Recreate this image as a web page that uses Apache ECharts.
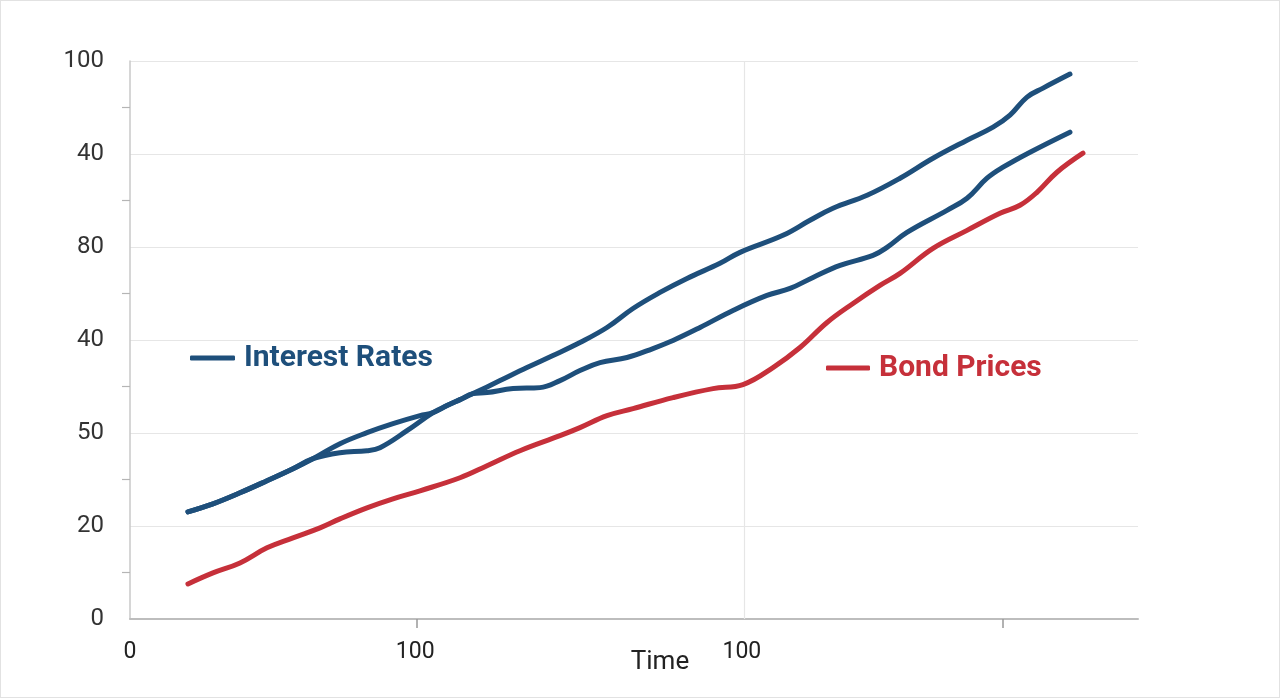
<!DOCTYPE html>
<html>
<head>
<meta charset="utf-8">
<script src="https://cdn.jsdelivr.net/npm/echarts@6/dist/echarts.min.js"></script>
<style>
html,body{margin:0;padding:0;background:#fff;}
#c{width:1278px;height:696px;border:1px solid #e2e2e2;}
</style>
</head>
<body>
<div id="c"></div>
<script>
// ---- data ----
const yTickLabels = ['0', '20', '50', '40', '80', '40', '100'];
const xLabelValues = [0, 28.3, 60.7];
const xLabelTexts = ['0', '100', '100'];
const xTickValues = [28.4, 86.6];
const xGridValues = [60.9];

const ratesA = [
  [5.75, 23.05], [8.23, 24.77], [10.91, 27.14], [13.59, 29.73], [16.17, 32.31], [18.15, 34.47],
  [20.83, 37.70], [23.51, 40.07], [26.09, 42.01], [28.77, 43.73],
  [30.06, 44.38], [31.45, 45.89], [32.74, 47.18], [34.03, 48.47],
  [35.42, 48.69], [38.00, 49.55], [40.67, 49.76], [42.66, 51.27], [44.64, 53.43], [46.63, 55.15],
  [49.31, 56.23], [51.88, 58.16], [53.87, 59.89], [56.55, 62.69], [59.82, 66.35], [63.19, 69.58],
  [65.48, 71.09], [67.76, 73.46], [70.44, 76.04], [73.71, 78.20], [75.10, 79.92], [77.08, 83.15],
  [81.05, 87.89], [83.04, 90.48], [85.02, 94.79], [86.61, 97.16], [89.29, 100.39], [93.25, 104.70]
];
const ratesB = [
  [5.75, 23.05], [8.23, 24.77], [10.91, 27.14], [13.59, 29.73], [16.17, 32.31], [18.15, 34.47],
  [20.83, 35.76], [23.51, 36.19], [24.80, 36.84], [27.48, 40.50],
  [30.06, 44.38], [31.45, 45.89], [32.74, 47.18], [34.03, 48.47],
  [36.71, 51.27], [39.38, 54.07], [41.96, 56.66], [44.64, 59.46], [47.32, 62.69], [49.90, 66.78],
  [52.58, 70.23], [55.26, 73.24], [58.53, 76.48], [60.52, 78.85], [64.78, 82.51], [67.46, 85.74],
  [69.74, 88.32], [73.12, 91.12], [76.39, 94.79], [79.66, 99.09], [83.04, 102.97], [85.62, 105.77],
  [87.30, 108.36], [88.99, 112.24], [90.58, 114.17], [93.25, 117.19]
];
const bondPrices = [
  [5.75, 7.54], [8.23, 9.91], [10.91, 12.06], [13.59, 15.30], [16.17, 17.45], [18.85, 19.60],
  [20.83, 21.54], [23.51, 23.91], [26.09, 25.85], [28.77, 27.57], [32.74, 30.37], [35.42, 32.96],
  [38.69, 36.19], [42.66, 39.42], [44.64, 41.15], [47.32, 43.73], [49.90, 45.24], [53.87, 47.61],
  [57.84, 49.55], [60.81, 50.41], [63.79, 54.07], [66.47, 58.38], [69.15, 63.77], [71.73, 67.86],
  [74.40, 71.74], [76.39, 74.32], [79.66, 79.71], [83.04, 83.58], [86.31, 87.25], [88.29, 88.97],
  [89.98, 91.77], [91.96, 96.08], [94.54, 100.17]
];

const BLUE = '#1e4f7b';
const RED = '#c6303a';
const FONT = 'Roboto, "Open Sans", "Liberation Sans", sans-serif';

const chart = echarts.init(document.getElementById('c'), null, {renderer: 'canvas'});

function lineSeries(name, data, color) {
  return {
    name: name, type: 'line', data: data, smooth: 0.4, showSymbol: false, symbol: 'none',
    lineStyle: {color: color, width: 5, cap: 'round', join: 'round'},
    itemStyle: {color: color}, z: 3
  };
}

chart.setOption({
  animation: false,
  backgroundColor: '#fff',
  grid: {left: 129, right: 141, top: 60, bottom: 78, containLabel: false},
  legend: [
    {
      data: ['Interest Rates'], left: 189, top: 342, padding: 0, icon: 'roundRect',
      itemWidth: 45, itemHeight: 5, selectedMode: false,
      textStyle: {color: BLUE, fontSize: 30, fontWeight: 'bold', fontFamily: FONT, padding: [0, 0, 0, 4]}
    },
    {
      data: ['Bond Prices'], left: 825, top: 352, padding: 0, icon: 'roundRect',
      itemWidth: 44, itemHeight: 5, selectedMode: false,
      textStyle: {color: RED, fontSize: 30, fontWeight: 'bold', fontFamily: FONT, padding: [0, 0, 0, 4]}
    }
  ],
  xAxis: {
    type: 'value', min: 0, max: 100,
    name: 'Time', nameLocation: 'middle', nameGap: 30, nameMoveOverlap: false,
    nameTextStyle: {color: '#222', fontSize: 26, fontFamily: FONT, padding: [0, 0, 0, 52]},
    axisLine: {show: true, lineStyle: {color: '#bdbdbd', width: 2}},
    axisTick: {show: true, customValues: xTickValues, length: 9, lineStyle: {color: '#999', width: 1.5}},
    axisLabel: {
      customValues: xLabelValues, margin: 22, color: '#222', fontSize: 23,
      fontFamily: FONT,
      formatter: function (v) {
        let best = 0;
        for (let i = 0; i < xLabelValues.length; i++) {
          if (Math.abs(xLabelValues[i] - v) < Math.abs(xLabelValues[best] - v)) best = i;
        }
        return xLabelTexts[best];
      }
    },
    splitLine: {show: false}
  },
  yAxis: {
    type: 'value', min: 0, max: 120, interval: 20,
    axisLine: {show: true, lineStyle: {color: '#c8c8c8', width: 1.5}},
    axisTick: {show: false},
    minorTick: {show: true, splitNumber: 2, length: 8, lineStyle: {color: '#b5b5b5', width: 1.2}},
    axisLabel: {
      margin: 26, color: '#333', fontSize: 24, fontFamily: FONT,
      formatter: function (v) { return yTickLabels[Math.round(v / 20)]; }
    },
    splitLine: {show: true, lineStyle: {color: '#e6e6e6', width: 1.2}}
  },
  series: [
    {
      name: 'grid', type: 'line', data: [], silent: true, z: 1,
      markLine: {
        silent: true, symbol: 'none', z: 1, animation: false,
        label: {show: false},
        lineStyle: {color: '#e6e6e6', width: 1.2, type: 'solid'},
        data: xGridValues.map(function (v) { return {xAxis: v}; })
      }
    },
    lineSeries('Interest Rates', ratesA, BLUE),
    lineSeries('Interest Rates', ratesB, BLUE),
    lineSeries('Bond Prices', bondPrices, RED)
  ]
});
</script>
</body>
</html>
